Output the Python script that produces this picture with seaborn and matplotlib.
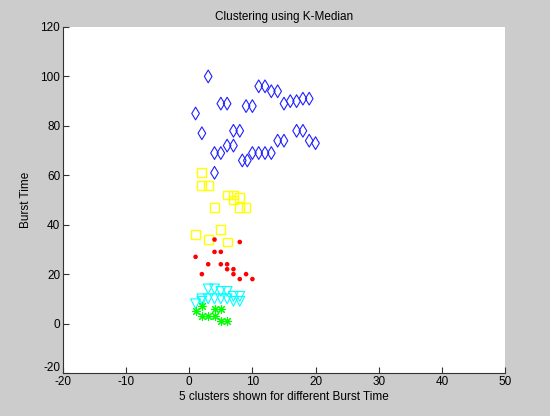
import numpy as np
import pandas as pd
import matplotlib
matplotlib.use("Agg")
import matplotlib.pyplot as plt
import matplotlib.transforms as mtransforms
import seaborn as sns

# Cluster data (process index, burst time)
blue_x = [1, 2, 3, 4, 4, 5, 5, 6, 6, 7, 7, 8, 8.4, 9, 9.2, 10, 10, 11, 11,
          12, 12, 13, 13, 14, 14, 15, 15, 16, 17, 17, 18, 18, 19, 19, 20]
blue_y = [85, 77, 100, 69, 61, 89, 69, 89, 72, 78, 72, 78, 66, 88, 66, 88, 69, 96, 69,
          96, 69, 94, 69, 94, 74, 89, 74, 90, 90, 78, 91, 78, 91, 74, 73]

yellow_x = [1, 2, 2, 3, 3, 4, 5, 6, 6, 7, 7, 8, 8, 9]
yellow_y = [36, 61, 56, 56, 34, 47, 38, 52, 33, 52, 50, 51, 47, 47]

red_x = [1, 2, 3, 4, 4, 5, 5, 6, 6, 7, 7, 8, 8, 9, 10]
red_y = [27, 20, 24, 34, 29, 29, 24, 24, 22, 22, 20, 33, 18, 20, 18]

cyan_x = [1, 2, 2, 3, 3, 4, 4, 5, 5, 6, 6, 7, 7, 8, 8]
cyan_y = [8, 9, 10, 10, 14, 10, 14, 10, 13, 10, 13, 9, 11, 9, 11]

green_x = [1, 2, 2, 3, 4, 4, 5, 5, 6]
green_y = [5, 7, 3, 3, 6, 3, 6, 1, 1]

plt.rcParams['font.family'] = ['Liberation Sans', 'DejaVu Sans']
plt.rcParams['axes.unicode_minus'] = False

fig = plt.figure(figsize=(5.5, 4.16), dpi=100, facecolor="#cccccc")
ax = fig.add_axes([0.1145, 0.1034, 0.8036, 0.8317])
ax.set_facecolor("white")

# -----------------------------
# Clusters
# -----------------------------
sns.scatterplot(x=blue_x, y=blue_y, marker="d", s=42, facecolor="none",
                edgecolor="#2020ff", linewidth=0.8, ax=ax)
sns.scatterplot(x=yellow_x, y=yellow_y, marker="s", s=40, facecolor="none",
                edgecolor="#ffff00", linewidth=1.0, ax=ax)
sns.scatterplot(x=red_x, y=red_y, marker="o", s=11, color="#ff0000",
                edgecolor="none", ax=ax)
sns.scatterplot(x=cyan_x, y=cyan_y, marker="v", s=50, facecolor="none",
                edgecolor="#00ffff", linewidth=0.8, ax=ax)
sns.scatterplot(x=green_x, y=green_y, marker=(8, 2, 0), s=32,
                color="#00ff00", edgecolor="#00ff00", linewidth=0.8, ax=ax)

ax.set_xlim(-20, 50)
ax.set_ylim(-20, 120)
ax.set_xticks(range(-20, 51, 10))
ax.set_yticks(range(-20, 121, 20))

for side in ["top", "right"]:
    ax.spines[side].set_visible(False)
for side in ["left", "bottom"]:
    ax.spines[side].set_color("#333333")
    ax.spines[side].set_linewidth(0.8)
ax.tick_params(direction="in", length=4, width=0.8, colors="#333333",
               labelsize=8.5, labelcolor="black", pad=2)

# lift the lowest y label a little so it sits above the x "-20"
lift = mtransforms.ScaledTranslation(0, 5 / 72, fig.dpi_scale_trans)
ylab = ax.get_yticklabels()[0]
ylab.set_transform(ylab.get_transform() + lift)

ax.set_title("Clustering using K-Median", fontsize=8.5, pad=5)
ax.set_xlabel("5 clusters shown for different Burst Time", fontsize=8.5, labelpad=2)
ax.set_ylabel("Burst Time", fontsize=8.5, labelpad=6)

fig.savefig("out.png", dpi=100, facecolor=fig.get_facecolor())
